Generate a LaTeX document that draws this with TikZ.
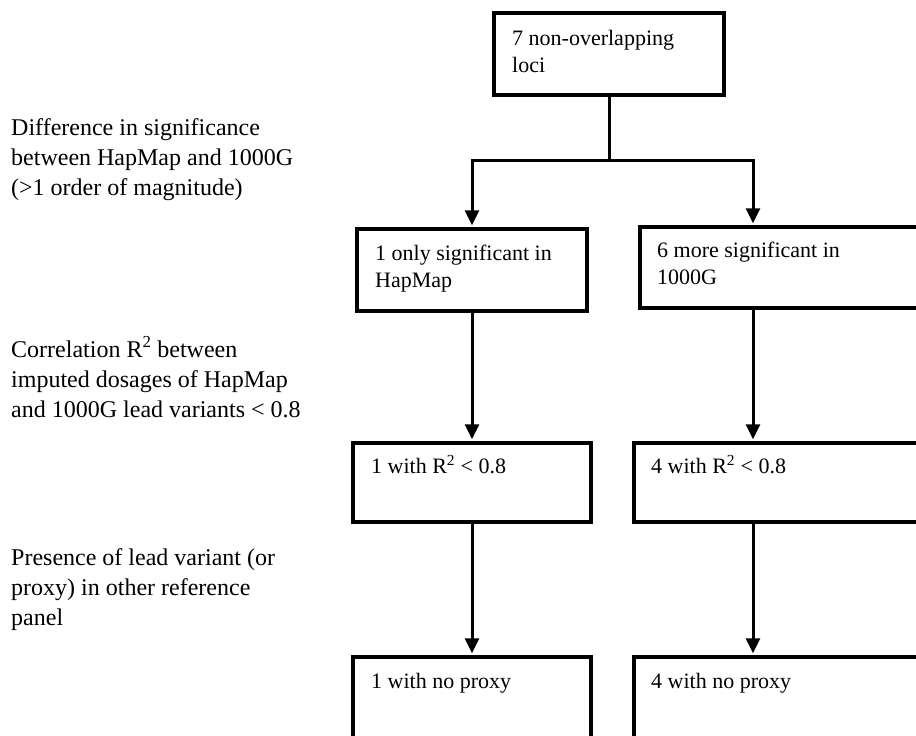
\documentclass[tikz,border=0pt]{standalone}
\usepackage{fontspec}
\setmainfont{Liberation Serif}
\usetikzlibrary{arrows.meta}
\begin{document}
\begin{tikzpicture}[x=1pt,y=-1pt,
  box/.style={draw, line width=3.5pt, inner sep=0pt, rectangle},
  conn/.style={line width=3pt},
  arr/.style={conn, -{Triangle[length=15pt,width=14pt]}, shorten >=2pt},
  boxtxt/.style={anchor=base west, inner sep=0pt, align=left, font=\fontsize{22}{27.5}\selectfont},
  sidetxt/.style={anchor=base west, inner sep=0pt, align=left, font=\fontsize{24}{30}\selectfont}]
\useasboundingbox (0,0) rectangle (916,736);
\clip (0,0) rectangle (916,736);
% boxes
\node[box, minimum width=230pt, minimum height=82pt] (top) at (609,54) {};
\node[box, minimum width=230pt, minimum height=82pt] (L1) at (472,270) {};
\node[box, minimum width=320pt, minimum height=81pt] (R1) at (800,267.5) {};
\node[box, minimum width=238pt, minimum height=79pt] (L2) at (472,482.5) {};
\node[box, minimum width=326pt, minimum height=79pt] (R2) at (797,482.5) {};
\node[box, minimum width=238pt, minimum height=123pt] (L3) at (472,718.5) {};
\node[box, minimum width=326pt, minimum height=123pt] (R3) at (797,718.5) {};
% connectors
\coordinate (split) at (609,160);
\coordinate (rcol) at (753,0);
\draw[conn] (top.south) -- (split);
\draw[arr] (split) -| (L1.north);
\draw[arr] (split) -| (R1.north -| rcol);
\draw[arr] (L1.south) -- (L2.north);
\draw[arr] (R1.south -| rcol) -- (R2.north -| rcol);
\draw[arr] (L2.south) -- (L3.north);
\draw[arr] (R2.south -| rcol) -- (R3.north -| rcol);
% box texts (anchor = baseline of last line)
\node[boxtxt] (ttop) at (512,72.5) {7 non-overlapping\\loci};
\node[boxtxt] (tL1) at (375,287.5) {1 only significant in\\HapMap};
\node[boxtxt] (tR1) at (657,284.5) {6 more significant in\\1000G};
\node[boxtxt] (tL2) at (371,473) {1 with R\textsuperscript{2} < 0.8};
\node[boxtxt] (tR2) at (651,473) {4 with R\textsuperscript{2} < 0.8};
\node[boxtxt] (tL3) at (371,688) {1 with no proxy};
\node[boxtxt] (tR3) at (651,688) {4 with no proxy};
% side texts
\node[sidetxt] (s1) at (11,195) {Difference in significance\\between HapMap and 1000G\\(>1 order of magnitude)};
\node[sidetxt] (s2) at (11,417) {Correlation R\textsuperscript{2} between\\imputed dosages of HapMap\\and 1000G lead variants < 0.8};
\node[sidetxt] (s3) at (11,625) {Presence of lead variant (or\\proxy) in other reference\\panel};
\end{tikzpicture}
\end{document}
